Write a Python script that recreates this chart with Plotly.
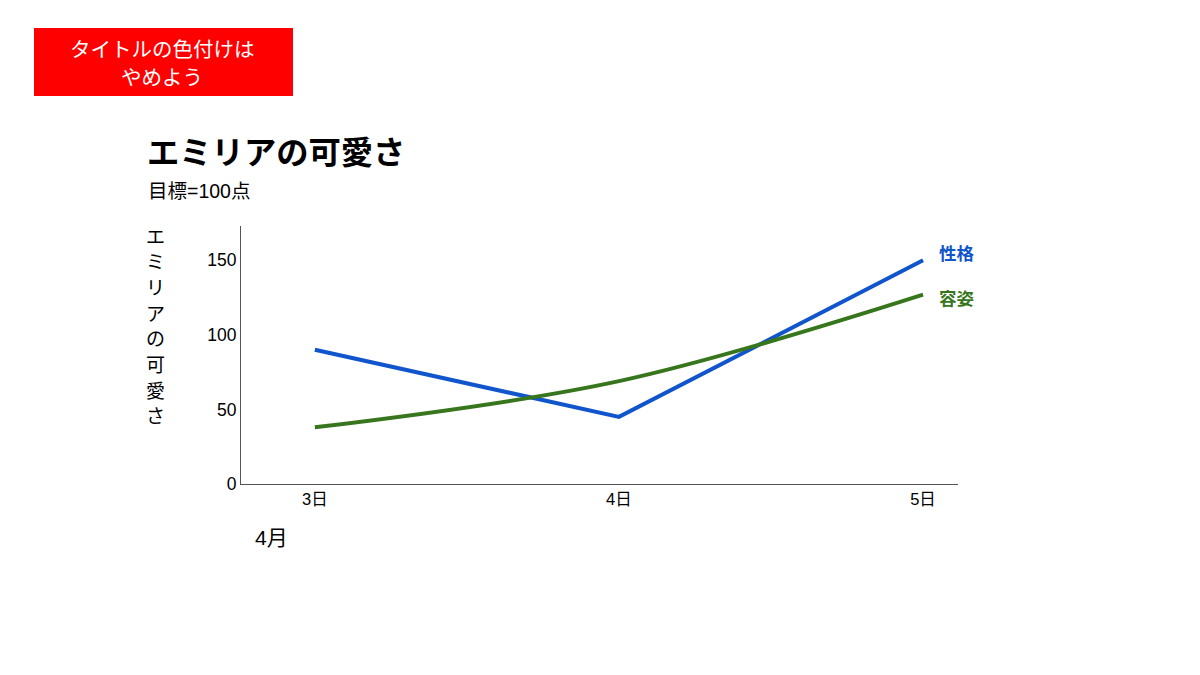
import plotly.graph_objects as go

categories = ["3日", "4日", "5日"]
personality = [90, 45, 150]   # 性格
looks = [38, 69, 127]         # 容姿
yticks = [0, 50, 100, 150]
ytitle_chars = list("エミリアの可愛さ")
note_lines = ["タイトルの色付けは", "やめよう"]

BLUE = "#1155CC"
GREEN = "#38761D"
FONT = "Liberation Sans, Arial, Noto Sans CJK JP, sans-serif"
JFONT = "Noto Sans CJK JP, sans-serif"

OFF = 8  # page offset
L, R, T, B = 241 - OFF, 242 + OFF, 226 - OFF, 191 + OFF
W, H = 1200, 675
pw, ph = W - L - R, H - T - B

def px(x):
    return (x - OFF - L) / pw

def py(y):
    return (H - B - (y - OFF)) / ph

xs = list(range(len(categories)))

fig = go.Figure()
fig.add_trace(go.Scatter(x=xs, y=personality, mode="lines", name="性格",
                         line=dict(color=BLUE, width=4)))
fig.add_trace(go.Scatter(x=xs, y=looks, mode="lines", name="容姿",
                         line=dict(color=GREEN, width=4, shape="spline", smoothing=1.0)))

fig.update_layout(
    width=W, height=H,
    margin=dict(l=L, r=R, t=T, b=B, pad=0),
    paper_bgcolor="white", plot_bgcolor="white",
    showlegend=False,
    font=dict(family=FONT, size=16, color="#000000"),
    xaxis=dict(range=[-0.243, 2.115], tickmode="array", tickvals=xs, ticktext=categories,
               showgrid=False, zeroline=False, showline=True, linecolor="#555555", linewidth=1,
               ticks="", tickfont=dict(size=16.5, family=FONT), fixedrange=True),
    yaxis=dict(range=[0, 173], tickmode="array", tickvals=yticks,
               ticktext=[str(v) for v in yticks],
               showgrid=False, zeroline=False, showline=True, linecolor="#555555", linewidth=1,
               ticks="", tickfont=dict(size=17.5, family=FONT), fixedrange=True),
)

# red box
fig.add_shape(type="rect", xref="paper", yref="paper",
              x0=px(34), x1=px(293), y0=py(96), y1=py(28),
              fillcolor="#FF0000", line=dict(width=0), layer="below")
for i, line in enumerate(note_lines):
    fig.add_annotation(xref="paper", yref="paper", x=px(162), y=py(48 + i * 28),
                       text=line, showarrow=False,
                       font=dict(family=JFONT, size=20.5, color="white"),
                       xanchor="center", yanchor="middle", align="center")

# title and subtitle
fig.add_annotation(xref="paper", yref="paper", x=px(145), y=py(150),
                   text="<b>エミリアの可愛さ</b>", showarrow=False,
                   font=dict(family=JFONT, size=32.3, color="black"),
                   xanchor="left", yanchor="middle")
fig.add_annotation(xref="paper", yref="paper", x=px(146), y=py(191),
                   text="目標=100点", showarrow=False,
                   font=dict(family=FONT, size=19.5, color="black"),
                   xanchor="left", yanchor="middle")

# vertical y-axis title, one character per line
top_c, step = 235, 25.7
for i, ch in enumerate(ytitle_chars):
    fig.add_annotation(xref="paper", yref="paper", x=px(155), y=py(top_c + i * step),
                       text=ch, showarrow=False,
                       font=dict(family=JFONT, size=19, color="black"),
                       xanchor="center", yanchor="middle")

# x-axis group label
fig.add_annotation(xref="paper", yref="paper", x=px(271), y=py(537),
                   text="4月", showarrow=False,
                   font=dict(family=FONT, size=21, color="black"),
                   xanchor="center", yanchor="middle")

# series labels
fig.add_annotation(x=xs[-1], y=personality[-1], xref="x", yref="y", text="<b>性格</b>",
                   showarrow=False, xanchor="left", yanchor="middle", xshift=14, yshift=8,
                   font=dict(family=JFONT, size=17.5, color=BLUE))
fig.add_annotation(x=xs[-1], y=looks[-1], xref="x", yref="y", text="<b>容姿</b>",
                   showarrow=False, xanchor="left", yanchor="middle", xshift=14, yshift=-3,
                   font=dict(family=JFONT, size=17.5, color=GREEN))

fig.write_html("out.html")
